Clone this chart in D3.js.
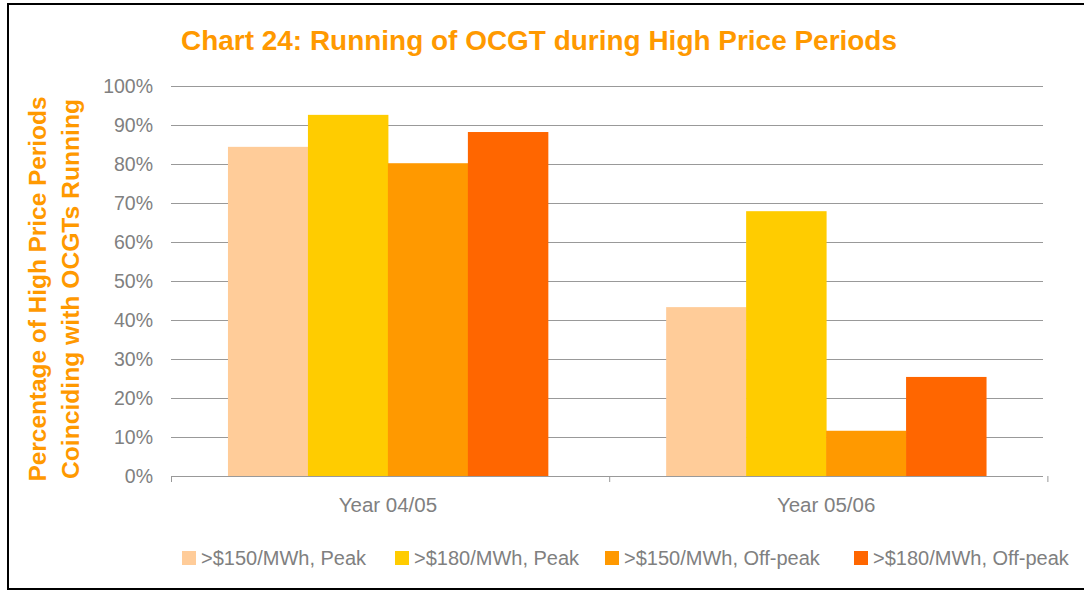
<!DOCTYPE html>
<html>
<head>
<meta charset="utf-8">
<script src="https://cdn.jsdelivr.net/npm/d3@7"></script>
<style>
  body { margin: 0; background: #fff; }
  svg { display: block; font-family: Arial, "Liberation Sans", sans-serif; }
</style>
</head>
<body>
<svg id="chart" width="1084" height="592"></svg>
<script>
const categories = ["Year 04/05", "Year 05/06"]
const seriesNames = [
  ">$150/MWh, Peak",
  ">$180/MWh, Peak",
  ">$150/MWh, Off-peak",
  ">$180/MWh, Off-peak"
]
const seriesColors = ["#FFCC99", "#FFCC00", "#FF9900", "#FF6600"]
// percent values per series, one per category
const peak150 = [84.4, 43.3]
const peak180 = [92.6, 67.9]
const offpeak150 = [80.2, 11.6]
const offpeak180 = [88.2, 25.4]
const yTicks = [0, 10, 20, 30, 40, 50, 60, 70, 80, 90, 100]

const seriesValues = [peak150, peak180, offpeak150, offpeak180]

const $svg = d3.select("#chart")
const plot = { left: 171, right: 1043, top: 86, bottom: 476 }
const grey = "#808080"

// frame
$svg.append("rect")
  .attr("x", 8).attr("y", 4)
  .attr("width", 1090).attr("height", 585)
  .attr("fill", "none").attr("stroke", "#000").attr("stroke-width", 2)

const x0 = d3.scaleBand()
  .domain(categories)
  .range([plot.left, plot.right])
  .paddingInner(0.27)
  .paddingOuter(0.13)
const x1 = d3.scaleBand()
  .domain(seriesNames)
  .range([0, x0.bandwidth()])
const y = d3.scaleLinear()
  .domain([0, 100])
  .range([plot.bottom, plot.top])

// gridlines
$svg.append("g")
  .selectAll("line")
  .data(yTicks.filter(d => d > 0))
  .enter()
  .append("line")
  .attr("x1", plot.left).attr("x2", plot.right)
  .attr("y1", d => Math.round(y(d)) + 0.5).attr("y2", d => Math.round(y(d)) + 0.5)
  .attr("stroke", "#999").attr("stroke-width", 1)

// y tick labels
$svg.append("g")
  .selectAll("text")
  .data(yTicks)
  .enter()
  .append("text")
  .attr("x", 153)
  .attr("y", d => y(d) + 7)
  .attr("text-anchor", "end")
  .attr("fill", grey)
  .attr("font-size", 19.5)
  .text(d => d + "%")

// bars
const $groups = $svg.append("g")
  .selectAll("g")
  .data(categories)
  .enter()
  .append("g")
  .attr("transform", d => `translate(${x0(d)},0)`)

$groups.selectAll("rect")
  .data((c, ci) => seriesNames.map((s, si) => ({ s, si, v: seriesValues[si][ci] })))
  .enter()
  .append("rect")
  .attr("x", d => x1(d.s))
  .attr("width", x1.bandwidth() + 0.5)
  .attr("y", d => y(d.v))
  .attr("height", d => y(0) - y(d.v))
  .attr("fill", d => seriesColors[d.si])

// x axis
const $xAxis = $svg.append("g").attr("transform", `translate(0,${plot.bottom})`)
$xAxis.append("line")
  .attr("x1", plot.left).attr("x2", plot.right)
  .attr("y1", 0.5).attr("y2", 0.5)
  .attr("stroke", "#999")
$xAxis.selectAll(".tk")
  .data([0, 1, 2])
  .enter()
  .append("line")
  .attr("x1", i => plot.left + i * x0.step() + 0.5)
  .attr("x2", i => plot.left + i * x0.step() + 0.5)
  .attr("y1", 0).attr("y2", 6)
  .attr("stroke", "#999")
$xAxis.selectAll("text")
  .data(categories)
  .enter()
  .append("text")
  .attr("x", d => x0(d) + x0.bandwidth() / 2)
  .attr("y", 36)
  .attr("text-anchor", "middle")
  .attr("fill", grey)
  .attr("font-size", 20.5)
  .text(d => d)

// title
$svg.append("text")
  .attr("x", 539).attr("y", 50)
  .attr("text-anchor", "middle")
  .attr("fill", "#FF9900")
  .attr("font-weight", "bold")
  .attr("font-size", 27)
  .attr("textLength", 716)
  .attr("lengthAdjust", "spacingAndGlyphs")
  .text("Chart 24: Running of OCGT during High Price Periods")

// y axis title
const $yTitle = $svg.append("text")
  .attr("transform", "translate(0,289) rotate(-90)")
  .attr("text-anchor", "middle")
  .attr("fill", "#FF9900")
  .attr("font-weight", "bold")
  .attr("font-size", 24)
$yTitle.append("tspan").attr("x", 0).attr("y", 46)
  .attr("textLength", 385).attr("lengthAdjust", "spacingAndGlyphs")
  .text("Percentage of High Price Periods")
$yTitle.append("tspan").attr("x", 0).attr("y", 79)
  .attr("textLength", 380).attr("lengthAdjust", "spacingAndGlyphs")
  .text("Coinciding with OCGTs Running")

// legend
const legendX = [182, 395, 605, 854]
const $legend = $svg.append("g")
  .selectAll("g")
  .data(seriesNames)
  .enter()
  .append("g")
  .attr("transform", (d, i) => `translate(${legendX[i]},551)`)
$legend.append("rect")
  .attr("width", 14).attr("height", 14)
  .attr("fill", (d, i) => seriesColors[i])
$legend.append("text")
  .attr("x", 19).attr("y", 14)
  .attr("fill", grey)
  .attr("font-size", 20)
  .text(d => d)
</script>
</body>
</html>
